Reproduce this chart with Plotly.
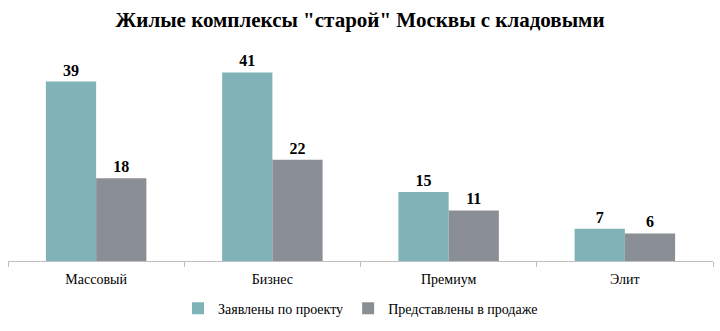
import plotly.graph_objects as go

categories = ["Массовый", "Бизнес", "Премиум", "Элит"]
declared = [39, 41, 15, 7]
on_sale = [18, 22, 11, 6]
series_names = ["Заявлены по проекту", "Представлены в продаже"]
title_text = 'Жилые комплексы "старой" Москвы с кладовыми'

serif = "Liberation Serif, Tinos, Times New Roman, serif"

fig = go.Figure()
fig.add_trace(go.Bar(
    x=categories, y=declared, name=series_names[0],
    marker=dict(color="#7fb3b7", line=dict(width=0)),
    text=declared, textposition="outside", cliponaxis=False,
    textfont=dict(family=serif, size=16, color="#000000"),
    texttemplate="<b>%{text}</b>",
))
fig.add_trace(go.Bar(
    x=categories, y=on_sale, name=series_names[1],
    marker=dict(color="#8a8f96", line=dict(width=0)),
    text=on_sale, textposition="outside", cliponaxis=False,
    textfont=dict(family=serif, size=16, color="#000000"),
    texttemplate="<b>%{text}</b>",
))

fig.update_layout(
    width=720, height=331,
    margin=dict(l=8, r=7, t=54, b=67),
    paper_bgcolor="white", plot_bgcolor="white",
    barmode="group", bargap=0.43, bargroupgap=0,
    title=dict(text="<b>" + title_text + "</b>", x=0.5, xanchor="center",
               y=0.94, yanchor="middle",
               font=dict(family=serif, size=21, color="#000000")),
    font=dict(family=serif, size=13, color="#000000"),
    xaxis=dict(showline=True, linecolor="#bfbfbf", linewidth=1,
               ticks="outside", tickson="boundaries", ticklen=5,
               tickcolor="#bfbfbf", tickfont=dict(family=serif, size=14),
               ticklabelstandoff=5, showgrid=False),
    yaxis=dict(visible=False, range=[0, 45], showgrid=False),
    legend=dict(orientation="h", x=0.5, xanchor="center", y=-0.23,
                yanchor="middle", font=dict(family=serif, size=14),
                itemwidth=30, traceorder="normal"),
    showlegend=True,
)

fig.write_html("out.html")
